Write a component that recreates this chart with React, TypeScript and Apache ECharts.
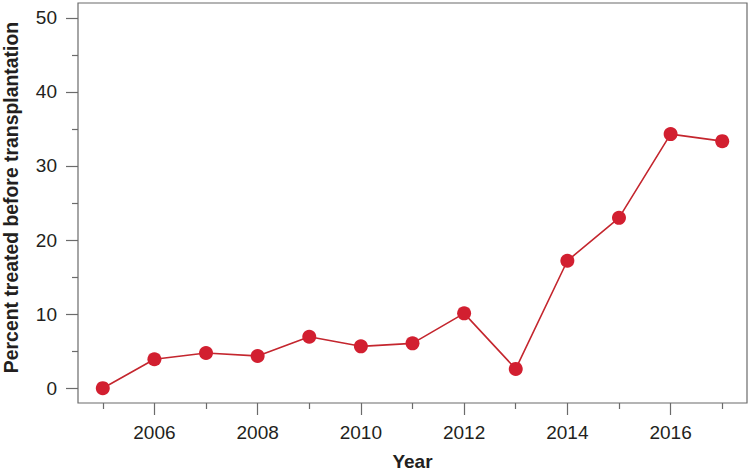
import React, { useEffect, useRef } from "react";
import * as echarts from "echarts";

const years = [2005, 2006, 2007, 2008, 2009, 2010, 2011, 2012, 2013, 2014, 2015, 2016, 2017];
const percentTreated = [0, 3.9, 4.75, 4.35, 6.95, 5.65, 6.05, 10.1, 2.6, 17.2, 23.0, 34.3, 33.35];
const xLabelYears = [2006, 2008, 2010, 2012, 2014, 2016];
const xMajorTicks = [2006, 2008, 2010, 2012, 2014, 2016];
const xMinorTicks = [2005, 2007, 2009, 2011, 2013, 2015, 2017];
const yLabelValues = [0, 10, 20, 30, 40, 50];
const yMinorTicks = [5, 15, 25, 35, 45];
const yTitle = "Percent treated before transplantation";
const xTitle = "Year";

const FONT = "Liberation Sans, Arial, Helvetica, sans-serif";
const AXIS_COLOR = "#6b6b6b";
const TEXT_COLOR = "#231f20";

export default function App() {
  const ref = useRef<HTMLDivElement>(null);
  useEffect(() => {
    if (!ref.current) return;
    const chart = echarts.init(ref.current, undefined, { renderer: "svg" });
    const xMin = 2004.52;
    const xMax = 2017.48;
    const yMin = -2;
    const yMax = 52;
    const tickLine = { color: AXIS_COLOR, width: 1.2 };
    chart.setOption({
      animation: false,
      backgroundColor: "#ffffff",
      grid: {
        left: 78,
        top: 3,
        right: 3,
        bottom: 70,
        containLabel: false,
        outerBoundsMode: "none",
        show: true,
        borderColor: AXIS_COLOR,
        borderWidth: 1.2,
        backgroundColor: "transparent",
      },
      graphic: [
        {
          type: "text",
          x: 10.5,
          y: 197.5,
          rotation: Math.PI / 2,
          style: {
            text: yTitle,
            fontSize: 19.4,
            fontWeight: "bold",
            fontFamily: FONT,
            fill: TEXT_COLOR,
            align: "center",
            verticalAlign: "middle",
          },
        },
      ],
      xAxis: [
        {
          type: "value",
          min: xMin,
          max: xMax,
          position: "bottom",
          axisLine: { show: false, onZero: false },
          splitLine: { show: false },
          axisTick: {
            show: true,
            length: 12,
            inside: false,
            customValues: xMajorTicks,
            lineStyle: tickLine,
          },
          axisLabel: {
            show: true,
            customValues: xLabelYears,
            margin: 20,
            fontSize: 19,
            fontFamily: FONT,
            color: TEXT_COLOR,
            formatter: (v: number) => String(Math.round(v)),
          },
          name: xTitle,
          nameLocation: "middle",
          nameGap: 49,
          nameTextStyle: {
            fontSize: 19,
            fontWeight: "bold",
            fontFamily: FONT,
            color: TEXT_COLOR,
          },
        },
        {
          type: "value",
          min: xMin,
          max: xMax,
          position: "bottom",
          axisLine: { show: false, onZero: false },
          splitLine: { show: false },
          axisTick: {
            show: true,
            length: 6,
            inside: false,
            customValues: xMinorTicks,
            lineStyle: tickLine,
          },
          axisLabel: { show: false },
        },
      ],
      yAxis: [
        {
          type: "value",
          min: yMin,
          max: yMax,
          position: "left",
          axisLine: { show: false, onZero: false },
          splitLine: { show: false },
          axisTick: {
            show: true,
            length: 12,
            inside: false,
            customValues: yLabelValues,
            lineStyle: tickLine,
          },
          axisLabel: {
            show: true,
            customValues: yLabelValues,
            margin: 21,
            fontSize: 19,
            fontFamily: FONT,
            color: TEXT_COLOR,
          },
        },
        {
          type: "value",
          min: yMin,
          max: yMax,
          position: "left",
          axisLine: { show: false, onZero: false },
          splitLine: { show: false },
          axisTick: {
            show: true,
            length: 6,
            inside: false,
            customValues: yMinorTicks,
            lineStyle: tickLine,
          },
          axisLabel: { show: false },
        },
      ],
      series: [
        {
          type: "line",
          xAxisIndex: 0,
          yAxisIndex: 0,
          data: years.map((y, i) => [y, percentTreated[i]]),
          symbol: "circle",
          symbolSize: 14,
          showAllSymbol: true,
          lineStyle: { color: "#c4262e", width: 1.6 },
          itemStyle: { color: "#d21f30", borderWidth: 0 },
          z: 3,
        },
      ],
    });
    return () => chart.dispose();
  }, []);
  return (
    <div
      ref={ref}
      style={{ position: "absolute", left: 0, top: 0, width: 750, height: 473 }}
    />
  );
}
